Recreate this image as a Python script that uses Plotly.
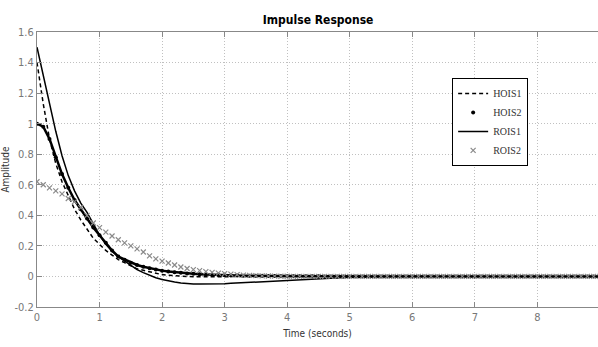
import plotly.graph_objects as go

# time axis (seconds), step 0.1 from 0 to 9
time_s = [round(i * 0.1, 1) for i in range(91)]

hois1 = [1.40, 1.13, 0.90, 0.74, 0.62, 0.53, 0.44, 0.37, 0.31, 0.25,
         0.21, 0.17, 0.14, 0.11, 0.09, 0.07, 0.05, 0.04, 0.03, 0.02,
         0.012, 0.008, 0.004, 0.002, 0.0, -0.002, -0.003, -0.003, -0.003, -0.002,
         -0.002, -0.001, -0.001, 0.0, 0.0, 0.0, 0.0, 0.0, 0.0, 0.0,
         0.0, 0.0, 0.0, 0.0, 0.0, 0.0, 0.0, 0.0, 0.0, 0.0,
         0.0, 0.0, 0.0, 0.0, 0.0, 0.0, 0.0, 0.0, 0.0, 0.0,
         0.0, 0.0, 0.0, 0.0, 0.0, 0.0, 0.0, 0.0, 0.0, 0.0,
         0.0, 0.0, 0.0, 0.0, 0.0, 0.0, 0.0, 0.0, 0.0, 0.0,
         0.0, 0.0, 0.0, 0.0, 0.0, 0.0, 0.0, 0.0, 0.0, 0.0, 0.0]

hois2 = [1.00, 0.98, 0.90, 0.78, 0.67, 0.58, 0.50, 0.44, 0.38, 0.32,
         0.27, 0.22, 0.17, 0.13, 0.11, 0.09, 0.075, 0.063, 0.053, 0.045,
         0.038, 0.033, 0.028, 0.024, 0.020, 0.017, 0.015, 0.013, 0.011, 0.009,
         0.008, 0.007, 0.006, 0.005, 0.005, 0.004, 0.004, 0.003, 0.003, 0.002,
         0.002, 0.002, 0.001, 0.001, 0.001, 0.001, 0.0, 0.0, 0.0, 0.0,
         0.0, 0.0, 0.0, 0.0, 0.0, 0.0, 0.0, 0.0, 0.0, 0.0,
         0.0, 0.0, 0.0, 0.0, 0.0, 0.0, 0.0, 0.0, 0.0, 0.0,
         0.0, 0.0, 0.0, 0.0, 0.0, 0.0, 0.0, 0.0, 0.0, 0.0,
         0.0, 0.0, 0.0, 0.0, 0.0, 0.0, 0.0, 0.0, 0.0, 0.0, 0.0]

rois1 = [1.50, 1.31, 1.12, 0.95, 0.79, 0.66, 0.56, 0.48, 0.42, 0.34,
         0.27, 0.21, 0.165, 0.13, 0.10, 0.07, 0.045, 0.025, 0.007, -0.008,
         -0.02, -0.03, -0.037, -0.043, -0.047, -0.049, -0.05, -0.05, -0.05, -0.049,
         -0.047, -0.045, -0.043, -0.041, -0.038, -0.035, -0.032, -0.03, -0.027, -0.025,
         -0.022, -0.02, -0.018, -0.016, -0.014, -0.012, -0.011, -0.009, -0.008, -0.007,
         -0.006, -0.005, -0.005, -0.004, -0.003, -0.003, -0.002, -0.002, -0.002, -0.001,
         -0.001, 0.0, 0.0, 0.0, 0.0, 0.0, 0.0, 0.0, 0.0, 0.0,
         0.0, 0.0, 0.0, 0.0, 0.0, 0.0, 0.0, 0.0, 0.0, 0.0,
         0.0, 0.0, 0.0, 0.0, 0.0, 0.0, 0.0, 0.0, 0.0, 0.0, 0.0]

rois2 = [0.62, 0.60, 0.58, 0.56, 0.54, 0.51, 0.49, 0.45, 0.40, 0.35,
         0.32, 0.29, 0.265, 0.24, 0.22, 0.20, 0.18, 0.16, 0.135, 0.115,
         0.10, 0.088, 0.075, 0.062, 0.052, 0.045, 0.038, 0.032, 0.027, 0.022,
         0.018, 0.015, 0.012, 0.009, 0.007, 0.005, 0.004, 0.003, 0.002, 0.001,
         0.001, 0.0, 0.0, 0.0, 0.0, 0.0, 0.0, 0.0, 0.0, 0.0,
         0.0, 0.0, 0.0, 0.0, 0.0, 0.0, 0.0, 0.0, 0.0, 0.0,
         0.0, 0.0, 0.0, 0.0, 0.0, 0.0, 0.0, 0.0, 0.0, 0.0,
         0.0, 0.0, 0.0, 0.0, 0.0, 0.0, 0.0, 0.0, 0.0, 0.0,
         0.0, 0.0, 0.0, 0.0, 0.0, 0.0, 0.0, 0.0, 0.0, 0.0, 0.0]

x_ticks = [0, 1, 2, 3, 4, 5, 6, 7, 8]
y_ticks = [-0.2, 0, 0.2, 0.4, 0.6, 0.8, 1, 1.2, 1.4, 1.6]
y_tick_text = ["-0.2", "0", "0.2", "0.4", "0.6", "0.8", "1", "1.2", "1.4", "1.6"]

narrow = "DejaVu Sans Condensed, Liberation Sans Narrow, Arial Narrow, sans-serif"

fig = go.Figure()
fig.add_trace(go.Scatter(x=time_s, y=hois1, name="HOIS1", mode="lines",
                         line=dict(color="black", width=1.5, dash="4px,3px")))
fig.add_trace(go.Scatter(x=time_s, y=hois2, name="HOIS2", mode="lines",
                         line=dict(color="black", width=2.5), showlegend=False))
fig.add_trace(go.Scatter(x=time_s, y=hois2, name="HOIS2", mode="markers",
                         marker=dict(color="black", size=4, symbol="circle")))
fig.add_trace(go.Scatter(x=time_s, y=rois1, name="ROIS1", mode="lines",
                         line=dict(color="black", width=1.5)))
fig.add_trace(go.Scatter(x=time_s, y=rois2, name="ROIS2", mode="markers",
                         marker=dict(color="#8a8a8a", size=5, symbol="x-thin",
                                     line=dict(color="#8a8a8a", width=1.2))))

fig.update_layout(
    width=598, height=347,
    margin=dict(l=37, r=0, t=32, b=40),
    paper_bgcolor="white", plot_bgcolor="white",
    title=dict(text="<b>Impulse Response</b>", x=0.532, xanchor="center", y=0.955,
               font=dict(family=narrow, size=12, color="black")),
    showlegend=True,
    legend=dict(x=0.74, y=0.833, xanchor="left", yanchor="top",
                bgcolor="white", bordercolor="black", borderwidth=1,
                font=dict(family="Liberation Serif, Times New Roman, serif", size=10, color="#333"),
                itemwidth=30, tracegroupgap=0),
    font=dict(family=narrow, size=11, color="#666"),
)
fig.update_xaxes(range=[0, 8.97], tickvals=x_ticks, ticks="inside", ticklen=5,
                 tickcolor="#888", showline=True, linecolor="#888", mirror="ticks",
                 showgrid=True, gridcolor="#c0c0c0", griddash="1px,2px", zeroline=False,
                 title=dict(text="Time (seconds)", font=dict(family=narrow, size=10, color="#333"), standoff=6),
                 tickfont=dict(family=narrow, size=11, color="#777"))
fig.update_yaxes(range=[-0.2, 1.6], tickvals=y_ticks, ticktext=y_tick_text, ticks="inside", ticklen=5,
                 tickcolor="#888", showline=True, linecolor="#888", mirror=False,
                 showgrid=True, gridcolor="#c0c0c0", griddash="1px,2px", zeroline=False,
                 title=dict(text="Amplitude", font=dict(family=narrow, size=10, color="#333"), standoff=4),
                 tickfont=dict(family=narrow, size=11, color="#777"))

fig.write_html("out.html")
